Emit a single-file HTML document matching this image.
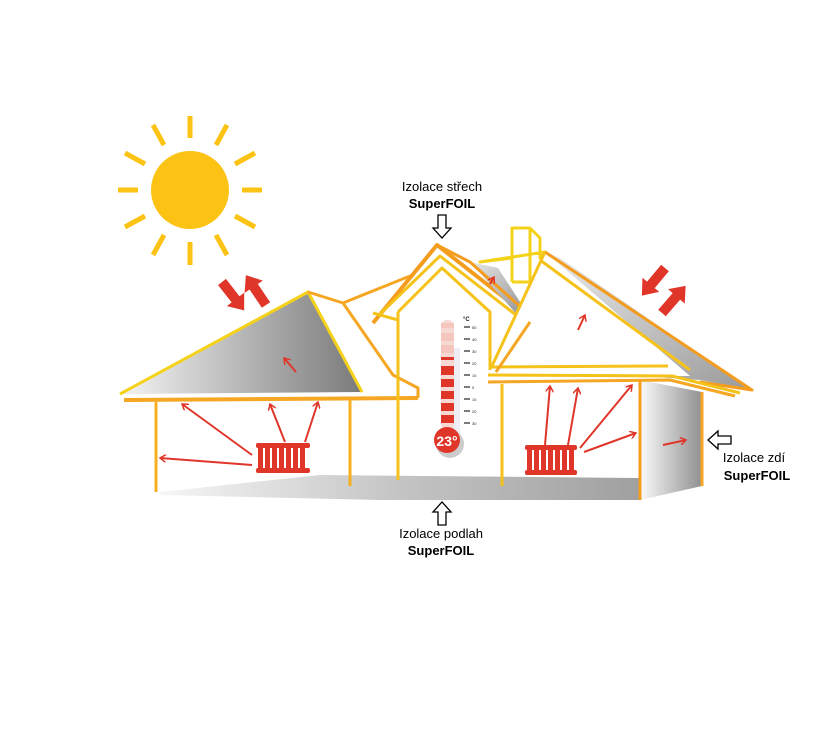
<!DOCTYPE html>
<html><head><meta charset="utf-8"><style>
html,body{margin:0;padding:0;background:#fff;width:830px;height:739px;overflow:hidden}
svg{display:block}
text{font-family:"Liberation Sans",sans-serif}
</style></head><body>
<svg width="830" height="739" viewBox="0 0 830 739" xmlns="http://www.w3.org/2000/svg">
<defs>
<linearGradient id="gl" x1="0" x2="1" y1="0" y2="0"><stop offset="0" stop-color="#f4f4f4"/><stop offset="1" stop-color="#7a7a7a"/></linearGradient>
<linearGradient id="gr" x1="0" x2="1" y1="0" y2="1"><stop offset="0" stop-color="#e8e8e8"/><stop offset="1" stop-color="#888"/></linearGradient>
<linearGradient id="gw" x1="0" x2="1"><stop offset="0" stop-color="#fafafa"/><stop offset="1" stop-color="#909090"/></linearGradient>
<linearGradient id="gf" x1="0" x2="1"><stop offset="0" stop-color="#f6f6f6"/><stop offset="0.5" stop-color="#c4c4c4"/><stop offset="1" stop-color="#a0a0a0"/></linearGradient>
<marker id="ah" markerWidth="8" markerHeight="8" refX="6" refY="4" orient="auto" markerUnits="userSpaceOnUse"><path d="M0,0 L6,4 L0,8" fill="none" stroke="#e0362a" stroke-width="1.5"/></marker>
<polygon id="arr" points="0,-5 22,-5 22,-11 36,0 22,11 22,5 0,5" fill="#e0362a"/>
</defs>
<!-- sun -->
<circle cx="190" cy="190" r="39" fill="#fcc315"/>
<g stroke="#fcc315" stroke-width="5" stroke-linecap="butt">
<line x1="190" y1="138" x2="190" y2="116"/><line x1="190" y1="242" x2="190" y2="265"/>
<line x1="138" y1="190" x2="118" y2="190"/><line x1="242" y1="190" x2="262" y2="190"/>
<line x1="164" y1="145" x2="153" y2="125"/><line x1="216" y1="145" x2="227" y2="125"/>
<line x1="164" y1="235" x2="153" y2="255"/><line x1="216" y1="235" x2="227" y2="255"/>
<line x1="145" y1="164" x2="125" y2="153"/><line x1="235" y1="164" x2="255" y2="153"/>
<line x1="145" y1="216" x2="125" y2="227"/><line x1="235" y1="216" x2="255" y2="227"/>
</g>
<!-- floor -->
<polygon points="160,492 320,475 640,478 640,500 380,500 160,495" fill="url(#gf)"/>
<!-- right wall box -->
<polygon points="640,380 702,392 702,486 640,500" fill="url(#gw)"/>
<!-- left roof -->
<polygon points="120,394 308,292 362,392" fill="url(#gl)"/>
<g fill="none" stroke-linejoin="round">
<polyline points="120,394 308,292 362,392" stroke="#f5d21a" stroke-width="3"/>
<polyline points="124,400 418,398" stroke="#f5a623" stroke-width="4"/>
<polyline points="308,292 343,303 393,375 418,388 418,398" stroke="#f5a623" stroke-width="3"/>
<polyline points="343,303 410,276" stroke="#f5a623" stroke-width="3"/>
<line x1="156" y1="402" x2="156" y2="492" stroke="#f5b020" stroke-width="3"/>
<line x1="350" y1="400" x2="350" y2="486" stroke="#f5b020" stroke-width="3"/>
<!-- central -->
<polyline points="373,323 437,245 530,318" stroke="#f39c1e" stroke-width="4"/>
<polyline points="378,316 440,256 525,322" stroke="#f5c21a" stroke-width="3"/>
<polyline points="398,312 398,480" stroke="#f5c21a" stroke-width="3"/>
<polyline points="398,312 442,268 490,312 490,370" stroke="#f5c21a" stroke-width="3"/>
<polyline points="373,313 398,320" stroke="#f5c21a" stroke-width="3"/>
<polygon points="480,262 512,258 512,228 530,228 540,238 540,258 545,252" stroke="#f5d21a" stroke-width="3"/>
<line x1="512" y1="282" x2="530" y2="282" stroke="#f5d21a" stroke-width="3"/>
</g>
<polygon points="470,262 498,268 533,322 520,318" fill="url(#gr)"/>
<g fill="none" stroke-linejoin="round">
<polyline points="437,245 470,262 533,318 520,322" stroke="#f39c1e" stroke-width="3"/>
<line x1="512" y1="228" x2="512" y2="282" stroke="#f5d21a" stroke-width="3"/>
<line x1="530" y1="228" x2="530" y2="282" stroke="#f5d21a" stroke-width="3"/>
</g>
<!-- right roof -->
<polygon points="545,252 560,258 752,390 700,380 640,376" fill="url(#gr)" opacity="0.85"/>
<polygon points="492,365 545,252 690,376 640,376" fill="#fff"/>
<g fill="none" stroke-linejoin="round">
<polyline points="545,252 752,390 700,382" stroke="#f39c1e" stroke-width="3"/>
<polyline points="540,260 690,370" stroke="#f5c21a" stroke-width="3"/>
<polyline points="492,366 545,252" stroke="#f5c21a" stroke-width="3"/>
<polyline points="490,367 668,366" stroke="#f5c21a" stroke-width="3"/>
<polyline points="488,375 672,376 740,393" stroke="#f5c21a" stroke-width="3"/>
<polyline points="488,382 670,380 735,396" stroke="#f5a623" stroke-width="3"/>
<polyline points="496,372 530,322" stroke="#f5a623" stroke-width="3"/>
<line x1="502" y1="384" x2="502" y2="486" stroke="#f5c21a" stroke-width="3"/>
<line x1="640" y1="380" x2="640" y2="500" stroke="#f39c1e" stroke-width="3"/>
<line x1="702" y1="392" x2="702" y2="486" stroke="#f5a623" stroke-width="3"/>
</g>
<!-- red heat arrows -->
<g stroke="#e0362a" stroke-width="2" fill="none" marker-end="url(#ah)">
<line x1="252" y1="455" x2="182" y2="404"/>
<line x1="252" y1="465" x2="160" y2="458"/>
<line x1="285" y1="442" x2="270" y2="404"/>
<line x1="305" y1="442" x2="318" y2="402"/>
<line x1="296" y1="372" x2="284" y2="358"/>
<line x1="545" y1="445" x2="550" y2="386"/>
<line x1="568" y1="445" x2="578" y2="388"/>
<line x1="580" y1="448" x2="632" y2="385"/>
<line x1="584" y1="452" x2="636" y2="433"/>
<line x1="663" y1="445" x2="686" y2="440"/>
<line x1="578" y1="330" x2="585" y2="315"/>
<line x1="490" y1="284" x2="494" y2="277"/>
</g>
<!-- radiators -->
<g fill="#e0362a">
<rect x="256" y="443" width="54" height="5" rx="2"/><rect x="256" y="468" width="54" height="5" rx="2"/>
<rect x="258" y="445" width="5" height="26"/><rect x="265" y="445" width="5" height="26"/><rect x="272" y="445" width="5" height="26"/><rect x="279" y="445" width="5" height="26"/><rect x="286" y="445" width="5" height="26"/><rect x="293" y="445" width="5" height="26"/><rect x="300" y="445" width="5" height="26"/>
<rect x="525" y="445" width="52" height="5" rx="2"/><rect x="525" y="470" width="52" height="5" rx="2"/>
<rect x="527" y="447" width="5" height="26"/><rect x="534" y="447" width="5" height="26"/><rect x="541" y="447" width="5" height="26"/><rect x="548" y="447" width="5" height="26"/><rect x="555" y="447" width="5" height="26"/><rect x="562" y="447" width="5" height="26"/><rect x="569" y="447" width="5" height="26"/>
</g>
<!-- sun red arrows -->
<use href="#arr" transform="translate(222,282) rotate(52)"/>
<use href="#arr" transform="translate(266,305) rotate(-124)"/>
<use href="#arr" transform="translate(665,268) rotate(130)"/>
<use href="#arr" transform="translate(662,313) rotate(-49)"/>
<!-- thermometer -->
<rect x="446" y="348" width="14" height="90" fill="#dde" opacity="0.5"/>
<circle cx="450" cy="444" r="14" fill="#ccc"/>
<rect x="441" y="320" width="13" height="110" rx="6" fill="#f7d9d4"/>
<rect x="441" y="323" width="13" height="5" fill="#f5c6bd"/><rect x="441" y="333" width="13" height="8" fill="#f5c6bd"/><rect x="441" y="345" width="13" height="8" fill="#f5c6bd"/>
<rect x="441" y="357" width="13" height="3" fill="#e0362a"/>
<rect x="441" y="366" width="13" height="9" fill="#e0362a"/><rect x="441" y="379" width="13" height="8" fill="#e0362a"/><rect x="441" y="391" width="13" height="8" fill="#e0362a"/><rect x="441" y="403" width="13" height="8" fill="#e0362a"/><rect x="441" y="415" width="13" height="8" fill="#e0362a"/>
<circle cx="447" cy="440" r="13" fill="#e0362a"/>
<text x="447" y="446" font-size="14" font-weight="bold" fill="#fff" text-anchor="middle">23°</text>
<g stroke="#222" stroke-width="1.2">
<line x1="464" y1="327" x2="470" y2="327"/><line x1="464" y1="339" x2="470" y2="339"/><line x1="464" y1="351" x2="470" y2="351"/><line x1="464" y1="363" x2="470" y2="363"/><line x1="464" y1="375" x2="470" y2="375"/><line x1="464" y1="387" x2="470" y2="387"/><line x1="464" y1="399" x2="470" y2="399"/><line x1="464" y1="411" x2="470" y2="411"/><line x1="464" y1="423" x2="470" y2="423"/>
</g>
<g font-size="4" fill="#222"><text x="463" y="321" font-size="6" font-weight="bold">°C</text>
<text x="472" y="329">50</text><text x="472" y="341">40</text><text x="472" y="353">30</text><text x="472" y="365">20</text><text x="472" y="377">10</text><text x="472" y="389">0</text><text x="472" y="401">10</text><text x="472" y="413">20</text><text x="472" y="425">30</text></g>
<!-- labels -->
<g fill="#000" text-anchor="middle">
<text x="442" y="191" font-size="13">Izolace střech</text>
<text x="442" y="208" font-size="13" font-weight="bold">SuperFOIL</text>
<text x="441" y="538" font-size="13">Izolace podlah</text>
<text x="441" y="555" font-size="13" font-weight="bold">SuperFOIL</text>
<text x="754" y="462" font-size="13">Izolace zdí</text>
<text x="757" y="480" font-size="13" font-weight="bold">SuperFOIL</text>
</g>
<g fill="#fff" stroke="#000" stroke-width="1.3" stroke-linejoin="miter">
<polygon points="438,215 446,215 446,228 451,228 442,238 433,228 438,228"/>
<polygon points="438,525 446,525 446,512 451,512 442,502 433,512 438,512"/>
<polygon points="731,436 731,444 718,444 718,449 708,440 718,431 718,436"/>
</g>
</svg>
</body></html>
